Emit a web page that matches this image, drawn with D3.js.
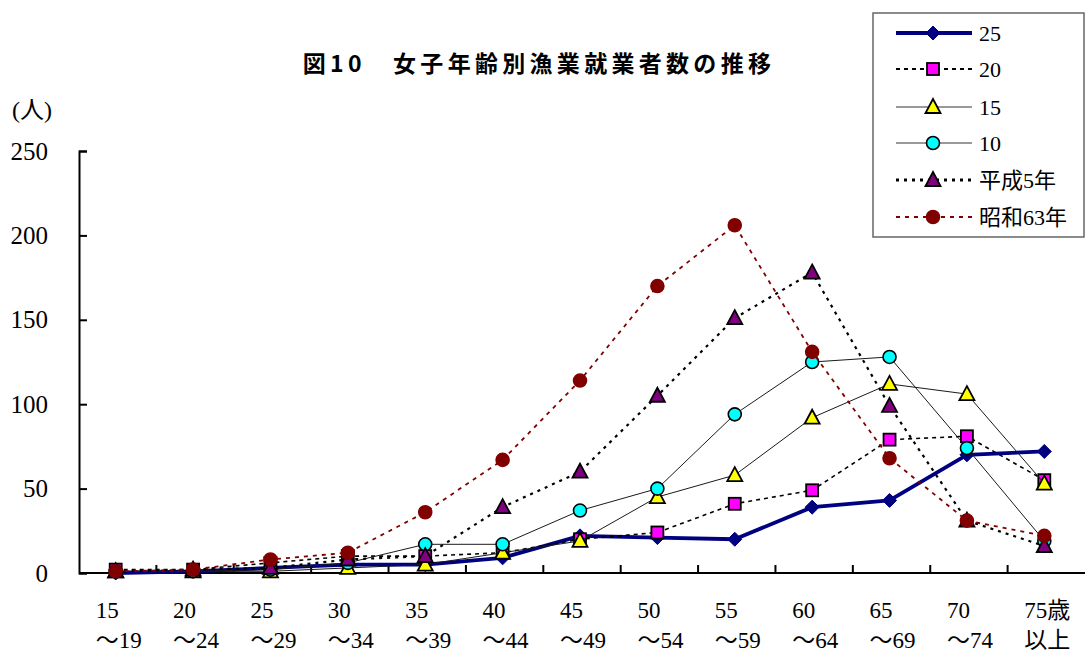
<!DOCTYPE html>
<html>
<head>
<meta charset="utf-8">
<script src="https://cdn.jsdelivr.net/npm/d3@7"></script>
<style>
  html, body { margin: 0; padding: 0; background: #fff; }
  svg { display: block; }
  .serif { font-family: "Liberation Serif", "Noto Sans CJK JP", serif; }
  .title { font-family: "Noto Sans CJK JP", sans-serif; font-weight: bold; }
</style>
</head>
<body>
<svg id="chart" width="1085" height="653"></svg>
<script>
// Age groups (two-line labels)
const ageTop = ["15", "20", "25", "30", "35", "40", "45", "50", "55", "60", "65", "70", "75歳"];
const ageBottom = ["～19", "～24", "～29", "～34", "～39", "～44", "～49", "～54", "～59", "～64", "～69", "～74", "以上"];
const yTicks = [0, 50, 100, 150, 200, 250];

// Female fishery workers by age group, per survey year (人)
const v25  = [0, 1, 3, 5, 5, 9, 22, 21, 20, 39, 43, 70, 72];
const v20  = [2, 2, 6, 10, 10, 12, 20, 24, 41, 49, 79, 81, 55];
const v15  = [1, 1, 1, 3, 5, 12, 19, 45, 58, 92, 112, 106, 53];
const v10  = [1, 1, 2, 6, 17, 17, 37, 50, 94, 125, 128, 74, 19];
const vH5  = [1, 2, 3, 8, 10, 39, 60, 105, 151, 178, 99, 31, 16];
const vS63 = [1, 2, 8, 12, 36, 67, 114, 170, 206, 131, 68, 31, 22];

const seriesNames = ["25", "20", "15", "10", "平成5年", "昭和63年"];

const series = [
  { name: seriesNames[0], values: v25,  stroke: "#000080", width: 3.8, dash: null,  marker: "diamond",  fill: "#000080", mstroke: "#000080", legendStroke: "#000080", legendWidth: 4 },
  { name: seriesNames[1], values: v20,  stroke: "#000000", width: 1.6, dash: "4,4", marker: "square",   fill: "#FF00FF", mstroke: "#000000", legendStroke: "#000000", legendWidth: 2 },
  { name: seriesNames[2], values: v15,  stroke: "#1a1a1a", width: 1,   dash: null,  marker: "triangle", fill: "#FFFF00", mstroke: "#000000", legendStroke: "#777777", legendWidth: 1.3 },
  { name: seriesNames[3], values: v10,  stroke: "#1a1a1a", width: 1,   dash: null,  marker: "circle",   fill: "#00FFFF", mstroke: "#000000", legendStroke: "#777777", legendWidth: 1.3 },
  { name: seriesNames[4], values: vH5,  stroke: "#000000", width: 2.2, dash: "3,5", marker: "triangle", fill: "#800080", mstroke: "#000000", legendStroke: "#000000", legendWidth: 3 },
  { name: seriesNames[5], values: vS63, stroke: "#800000", width: 1.8, dash: "4,5", marker: "circle",   fill: "#800000", mstroke: "#800000", legendStroke: "#800000", legendWidth: 2 }
];

const svg = d3.select("#chart");
const plotLeft = 79, plotRight = 1085, plotTop = 151, plotBottom = 573;

const x = d3.scaleBand().domain(d3.range(ageTop.length)).range([plotLeft, plotRight]);
const y = d3.scaleLinear().domain([0, 250]).range([plotBottom, plotTop]);
const cx = i => x(i) + x.bandwidth() / 2 - 2;

// Title
svg.append("text").attr("class", "title")
  .attr("x", 539).attr("y", 62)
  .attr("text-anchor", "middle").attr("dominant-baseline", "central")
  .attr("font-size", 23).attr("letter-spacing", 4.3)
  .text("図10　女子年齢別漁業就業者数の推移");

// Unit label
svg.append("text").attr("class", "serif")
  .attr("x", 12).attr("y", 110)
  .attr("dominant-baseline", "central")
  .attr("font-size", 24)
  .text("(人)");

// Y axis: ticks point inward
const yAxis = d3.axisLeft(y).tickValues(yTicks).tickSize(-8).tickPadding(31);
const gy = svg.append("g").attr("transform", `translate(${plotLeft},0)`).call(yAxis);
gy.attr("font-family", null).attr("font-size", null);
gy.select(".domain").attr("stroke", "#000").attr("stroke-width", 2);
gy.selectAll(".tick line").attr("stroke", "#000").attr("stroke-width", 2);
gy.selectAll(".tick text").attr("class", "serif").attr("font-size", 25).attr("fill", "#000");

// X axis line with inward ticks at band boundaries
svg.append("line").attr("x1", plotLeft).attr("x2", plotRight).attr("y1", plotBottom).attr("y2", plotBottom)
  .attr("stroke", "#000").attr("stroke-width", 2);
svg.append("g").selectAll("line").data(d3.range(1, ageTop.length)).join("line")
  .attr("x1", i => x(i)).attr("x2", i => x(i))
  .attr("y1", plotBottom).attr("y2", plotBottom - 8)
  .attr("stroke", "#000").attr("stroke-width", 2);

// X tick labels (two lines)
const xl = svg.append("g").attr("class", "serif").attr("font-size", 23).attr("fill", "#000");
xl.selectAll("text.t1").data(ageTop).join("text").attr("class", "t1")
  .attr("x", (d, i) => cx(i) - 20).attr("y", 618).text(d => d);
xl.selectAll("text.t2").data(ageBottom).join("text").attr("class", "t2")
  .attr("x", (d, i) => cx(i) - 20).attr("y", 648).text(d => d);

// Marker drawing
function drawMarker(g, type, fill, stroke) {
  if (type === "diamond") {
    g.append("path").attr("d", "M0,-7L7,0L0,7L-7,0Z").attr("fill", fill).attr("stroke", stroke).attr("stroke-width", 1);
  } else if (type === "square") {
    g.append("rect").attr("x", -6).attr("y", -6).attr("width", 12).attr("height", 12)
      .attr("fill", fill).attr("stroke", stroke).attr("stroke-width", 1.8);
  } else if (type === "triangle") {
    g.append("path").attr("d", "M0,-8L7.5,6L-7.5,6Z").attr("fill", fill).attr("stroke", stroke).attr("stroke-width", 1.8);
  } else if (type === "circle") {
    g.append("circle").attr("r", 6.5).attr("fill", fill).attr("stroke", stroke).attr("stroke-width", 1.6);
  }
}

const line = d3.line().x((d, i) => cx(i)).y(d => y(d));

// Series: line then markers, drawn in legend order
series.forEach(s => {
  const g = svg.append("g");
  g.append("path").datum(s.values).attr("d", line)
    .attr("fill", "none").attr("stroke", s.stroke).attr("stroke-width", s.width)
    .attr("stroke-dasharray", s.dash).attr("stroke-linejoin", "round");
  s.values.forEach((v, i) => {
    const m = g.append("g").attr("transform", `translate(${cx(i)},${y(v)})`);
    drawMarker(m, s.marker, s.fill, s.mstroke);
  });
});

// Legend
const lg = svg.append("g");
lg.append("rect").attr("x", 873).attr("y", 13).attr("width", 211).attr("height", 224)
  .attr("fill", "#fff").attr("stroke", "#666").attr("stroke-width", 1.5);
const rowY = [33, 69, 107, 143, 180, 217];
series.forEach((s, k) => {
  const ry = rowY[k];
  lg.append("line").attr("x1", 896).attr("x2", 972).attr("y1", ry).attr("y2", ry)
    .attr("stroke", s.legendStroke).attr("stroke-width", s.legendWidth)
    .attr("stroke-dasharray", s.dash);
  const m = lg.append("g").attr("transform", `translate(933,${ry})`);
  drawMarker(m, s.marker, s.fill, s.mstroke);
  lg.append("text").attr("class", "serif").attr("x", 979).attr("y", ry)
    .attr("dominant-baseline", "central").attr("font-size", 22).attr("fill", "#000")
    .text(s.name);
});
</script>
</body>
</html>
